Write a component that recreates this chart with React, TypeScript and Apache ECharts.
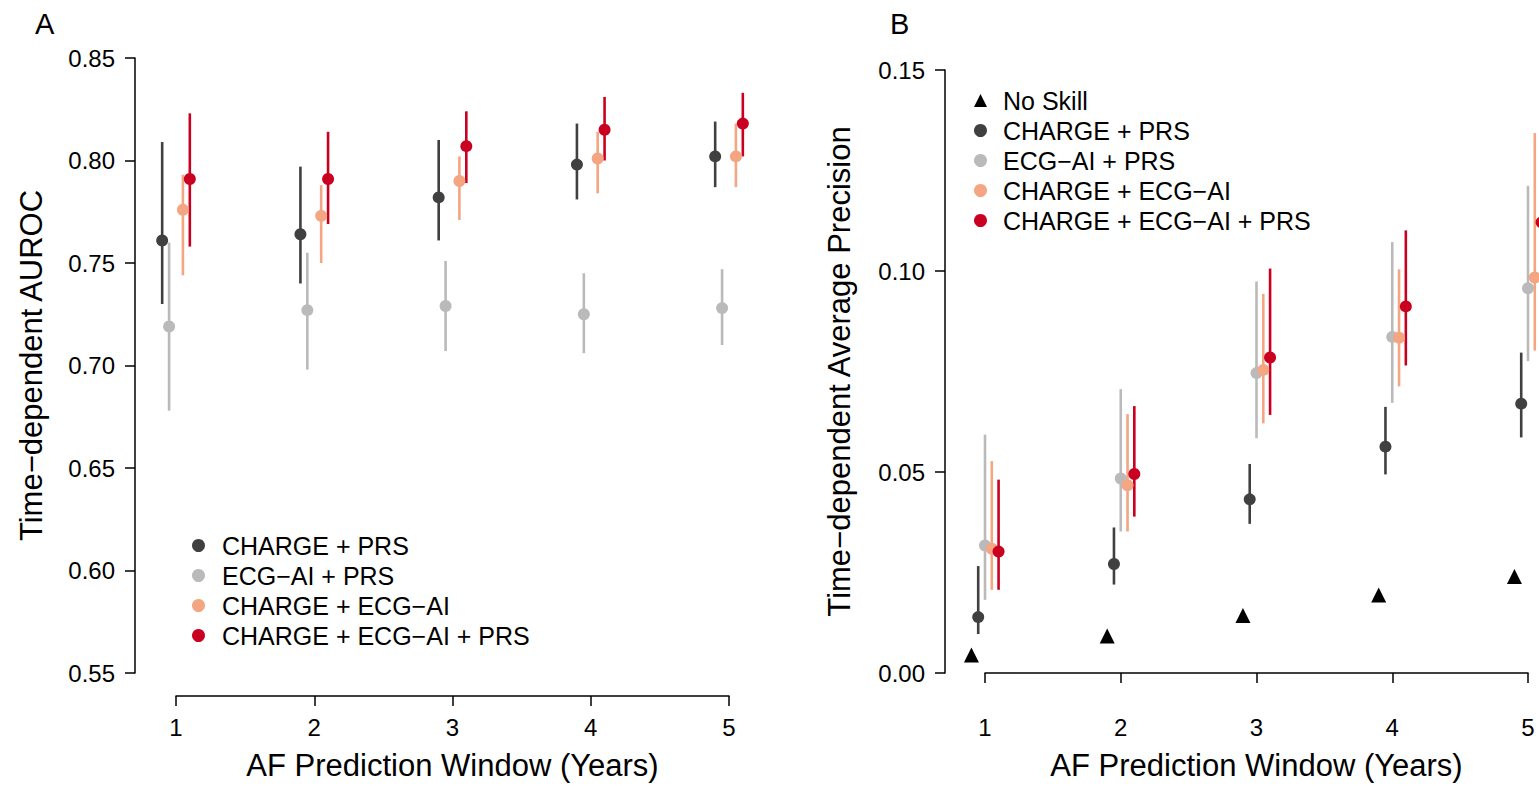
import React, { useEffect, useRef } from "react";
import * as echarts from "echarts";

// ---------- data ----------
const YEARS = [1, 2, 3, 4, 5];
const MODELS = ["CHARGE + PRS", "ECG−AI + PRS", "CHARGE + ECG−AI", "CHARGE + ECG−AI + PRS"];
const NO_SKILL_NAME = "No Skill";
const COLORS = ["#404040", "#bababa", "#f4a582", "#ca0020"];

// Panel A: time-dependent AUROC (estimate, lower, upper)
const auroc_chargePrs = [0.761, 0.764, 0.782, 0.798, 0.802];
const auroc_chargePrs_lo = [0.73, 0.74, 0.761, 0.781, 0.787];
const auroc_chargePrs_hi = [0.809, 0.797, 0.81, 0.818, 0.819];
const auroc_ecgPrs = [0.719, 0.727, 0.729, 0.725, 0.728];
const auroc_ecgPrs_lo = [0.678, 0.698, 0.707, 0.706, 0.71];
const auroc_ecgPrs_hi = [0.76, 0.755, 0.751, 0.745, 0.747];
const auroc_chargeEcg = [0.776, 0.773, 0.79, 0.801, 0.802];
const auroc_chargeEcg_lo = [0.744, 0.75, 0.771, 0.784, 0.787];
const auroc_chargeEcg_hi = [0.793, 0.788, 0.802, 0.814, 0.818];
const auroc_all = [0.791, 0.791, 0.807, 0.815, 0.818];
const auroc_all_lo = [0.758, 0.769, 0.789, 0.8, 0.802];
const auroc_all_hi = [0.823, 0.814, 0.824, 0.831, 0.833];

// Panel B: time-dependent average precision
const ap_noSkill = [0.0045, 0.0092, 0.0143, 0.0194, 0.024];
const ap_chargePrs = [0.0139, 0.0271, 0.0432, 0.0563, 0.067];
const ap_chargePrs_lo = [0.0097, 0.022, 0.0371, 0.0494, 0.0586];
const ap_chargePrs_hi = [0.0266, 0.0362, 0.052, 0.0662, 0.0797];
const ap_ecgPrs = [0.0317, 0.0484, 0.0746, 0.0836, 0.0957];
const ap_ecgPrs_lo = [0.0182, 0.0352, 0.0584, 0.0672, 0.0776];
const ap_ecgPrs_hi = [0.0593, 0.0706, 0.0974, 0.1072, 0.1212];
const ap_chargeEcg = [0.0309, 0.0467, 0.0754, 0.0834, 0.0984];
const ap_chargeEcg_lo = [0.0207, 0.0352, 0.0621, 0.0713, 0.0802];
const ap_chargeEcg_hi = [0.0527, 0.0644, 0.0943, 0.1004, 0.1343];
const ap_all = [0.0302, 0.0495, 0.0785, 0.0912, 0.1121];
const ap_all_lo = [0.0207, 0.0389, 0.0642, 0.0765, 0.094];
const ap_all_hi = [0.0481, 0.0664, 0.1006, 0.1101, 0.147];

const A_TICKS = [0.55, 0.6, 0.65, 0.7, 0.75, 0.8, 0.85];
const B_TICKS = [0, 0.05, 0.1, 0.15];

// ---------- layout / style ----------
const FONT = "'Liberation Sans', Arial, Helvetica, sans-serif";
const OFFSETS_A = [-0.1, -0.05, 0.05, 0.1];
const OFFSETS_B = [-0.05, 0, 0.05, 0.1];
const OFFSET_NOSKILL = -0.1;

function errSeries(name: string, gi: number, color: string, off: number, lo: number[], hi: number[]) {
  return {
    type: "custom",
    name,
    xAxisIndex: gi,
    yAxisIndex: gi,
    clip: false,
    silent: true,
    encode: { x: 0, y: [1, 2] },
    data: YEARS.map((y, i) => [y + off, lo[i], hi[i]]),
    renderItem: (params: any, api: any) => {
      const x = api.value(0);
      const p1 = api.coord([x, api.value(1)]);
      const p2 = api.coord([x, api.value(2)]);
      return {
        type: "line",
        shape: { x1: p1[0], y1: p1[1], x2: p2[0], y2: p2[1] },
        style: { stroke: color, lineWidth: 2.6 },
      };
    },
  };
}

function pointSeries(name: string, gi: number, color: string, off: number, vals: number[], symbol = "circle", size = 12) {
  return {
    type: "scatter",
    name,
    xAxisIndex: gi,
    yAxisIndex: gi,
    clip: false,
    symbol,
    symbolSize: size,
    itemStyle: { color, opacity: 1 },
    data: YEARS.map((y, i) => [y + off, vals[i]]),
  };
}

function xAxis(gi: number) {
  return {
    type: "value",
    gridIndex: gi,
    min: 1,
    max: 5,
    interval: 1,
    offset: 23,
    axisLine: { show: true, lineStyle: { color: "#000", width: 1.5 } },
    axisTick: { show: true, length: 10, lineStyle: { color: "#000", width: 1.5 } },
    axisLabel: { fontSize: 24, color: "#000", margin: 19, fontFamily: FONT },
    splitLine: { show: false },
    name: "AF Prediction Window (Years)",
    nameLocation: "middle",
    nameGap: 54,
    nameTextStyle: { fontSize: 31, color: "#000", fontFamily: FONT },
  };
}

function yAxis(gi: number, min: number, max: number, ticks: number[], name: string, offset: number, gap: number) {
  return {
    type: "value",
    gridIndex: gi,
    min,
    max,
    interval: 0.05,
    offset,
    axisLine: { show: true, lineStyle: { color: "#000", width: 1.5 } },
    axisTick: { show: true, length: 10, lineStyle: { color: "#000", width: 1.5 } },
    axisLabel: {
      fontSize: 24,
      color: "#000",
      margin: 20,
      fontFamily: FONT,
      formatter: (v: number) => {
        const t = ticks.find((k) => Math.abs(k - v) < 1e-9);
        return (t !== undefined ? t : v).toFixed(2);
      },
    },
    splitLine: { show: false },
    name,
    nameLocation: "middle",
    nameGap: gap,
    nameTextStyle: { fontSize: 31, color: "#000", fontFamily: FONT },
  };
}

export default function App() {
  const ref = useRef<HTMLDivElement>(null);
  useEffect(() => {
    document.body.style.margin = "0";
    if (!ref.current) return;
    const chart = echarts.init(ref.current, null, { renderer: "svg" });

    const aVals = [auroc_chargePrs, auroc_ecgPrs, auroc_chargeEcg, auroc_all];
    const aLo = [auroc_chargePrs_lo, auroc_ecgPrs_lo, auroc_chargeEcg_lo, auroc_all_lo];
    const aHi = [auroc_chargePrs_hi, auroc_ecgPrs_hi, auroc_chargeEcg_hi, auroc_all_hi];
    const bVals = [ap_chargePrs, ap_ecgPrs, ap_chargeEcg, ap_all];
    const bLo = [ap_chargePrs_lo, ap_ecgPrs_lo, ap_chargeEcg_lo, ap_all_lo];
    const bHi = [ap_chargePrs_hi, ap_ecgPrs_hi, ap_chargeEcg_hi, ap_all_hi];

    const series: any[] = [];
    MODELS.forEach((m, k) => {
      series.push(errSeries(m + " CI (A)", 0, COLORS[k], OFFSETS_A[k], aLo[k], aHi[k]));
      series.push(pointSeries(m, 0, COLORS[k], OFFSETS_A[k], aVals[k]));
    });
    series.push(pointSeries(NO_SKILL_NAME, 1, "#000", OFFSET_NOSKILL, ap_noSkill, "triangle", 15));
    MODELS.forEach((m, k) => {
      series.push(errSeries(m + " CI (B)", 1, COLORS[k], OFFSETS_B[k], bLo[k], bHi[k]));
      series.push(pointSeries(m, 1, COLORS[k], OFFSETS_B[k], bVals[k]));
    });

    const legendText = { fontSize: 25, color: "#000", fontFamily: FONT, lineHeight: 24 };

    chart.setOption({
      animation: false,
      backgroundColor: "#fff",
      textStyle: { fontFamily: FONT },
      title: [
        { text: "A", left: 35, top: 9, padding: 0, textStyle: { fontSize: 29, fontWeight: "normal", color: "#000", fontFamily: FONT } },
        { text: "B", left: 890, top: 9, padding: 0, textStyle: { fontSize: 29, fontWeight: "normal", color: "#000", fontFamily: FONT } },
      ],
      grid: [
        { left: 176, top: 58, width: 553, height: 622, containLabel: false },
        { left: 985, top: 70, width: 543, height: 610, containLabel: false },
      ],
      xAxis: [xAxis(0), xAxis(1)],
      yAxis: [
        yAxis(0, 0.55, 0.85, A_TICKS, "Time−dependent AUROC", 41, 88),
        yAxis(1, 0, 0.15, B_TICKS, "Time−dependent Average Precision", 40, 90),
      ],
      legend: [
        {
          orient: "vertical",
          left: 192,
          top: 533,
          padding: 0,
          itemWidth: 13,
          itemHeight: 13,
          itemGap: 5,
          data: MODELS.map((m) => ({ name: m, icon: "circle" })),
          textStyle: { ...legendText, padding: [0, 0, 0, 12] },
          selectedMode: false,
        },
        {
          orient: "vertical",
          left: 974,
          top: 88,
          padding: 0,
          itemWidth: 13,
          itemHeight: 13,
          itemGap: 5,
          data: [{ name: NO_SKILL_NAME, icon: "triangle" }, ...MODELS.map((m) => ({ name: m, icon: "circle" }))],
          textStyle: { ...legendText, padding: [0, 0, 0, 11] },
          selectedMode: false,
        },
      ],
      series,
    });
    return () => chart.dispose();
  }, []);
  return <div ref={ref} style={{ width: 1539, height: 786 }} />;
}
